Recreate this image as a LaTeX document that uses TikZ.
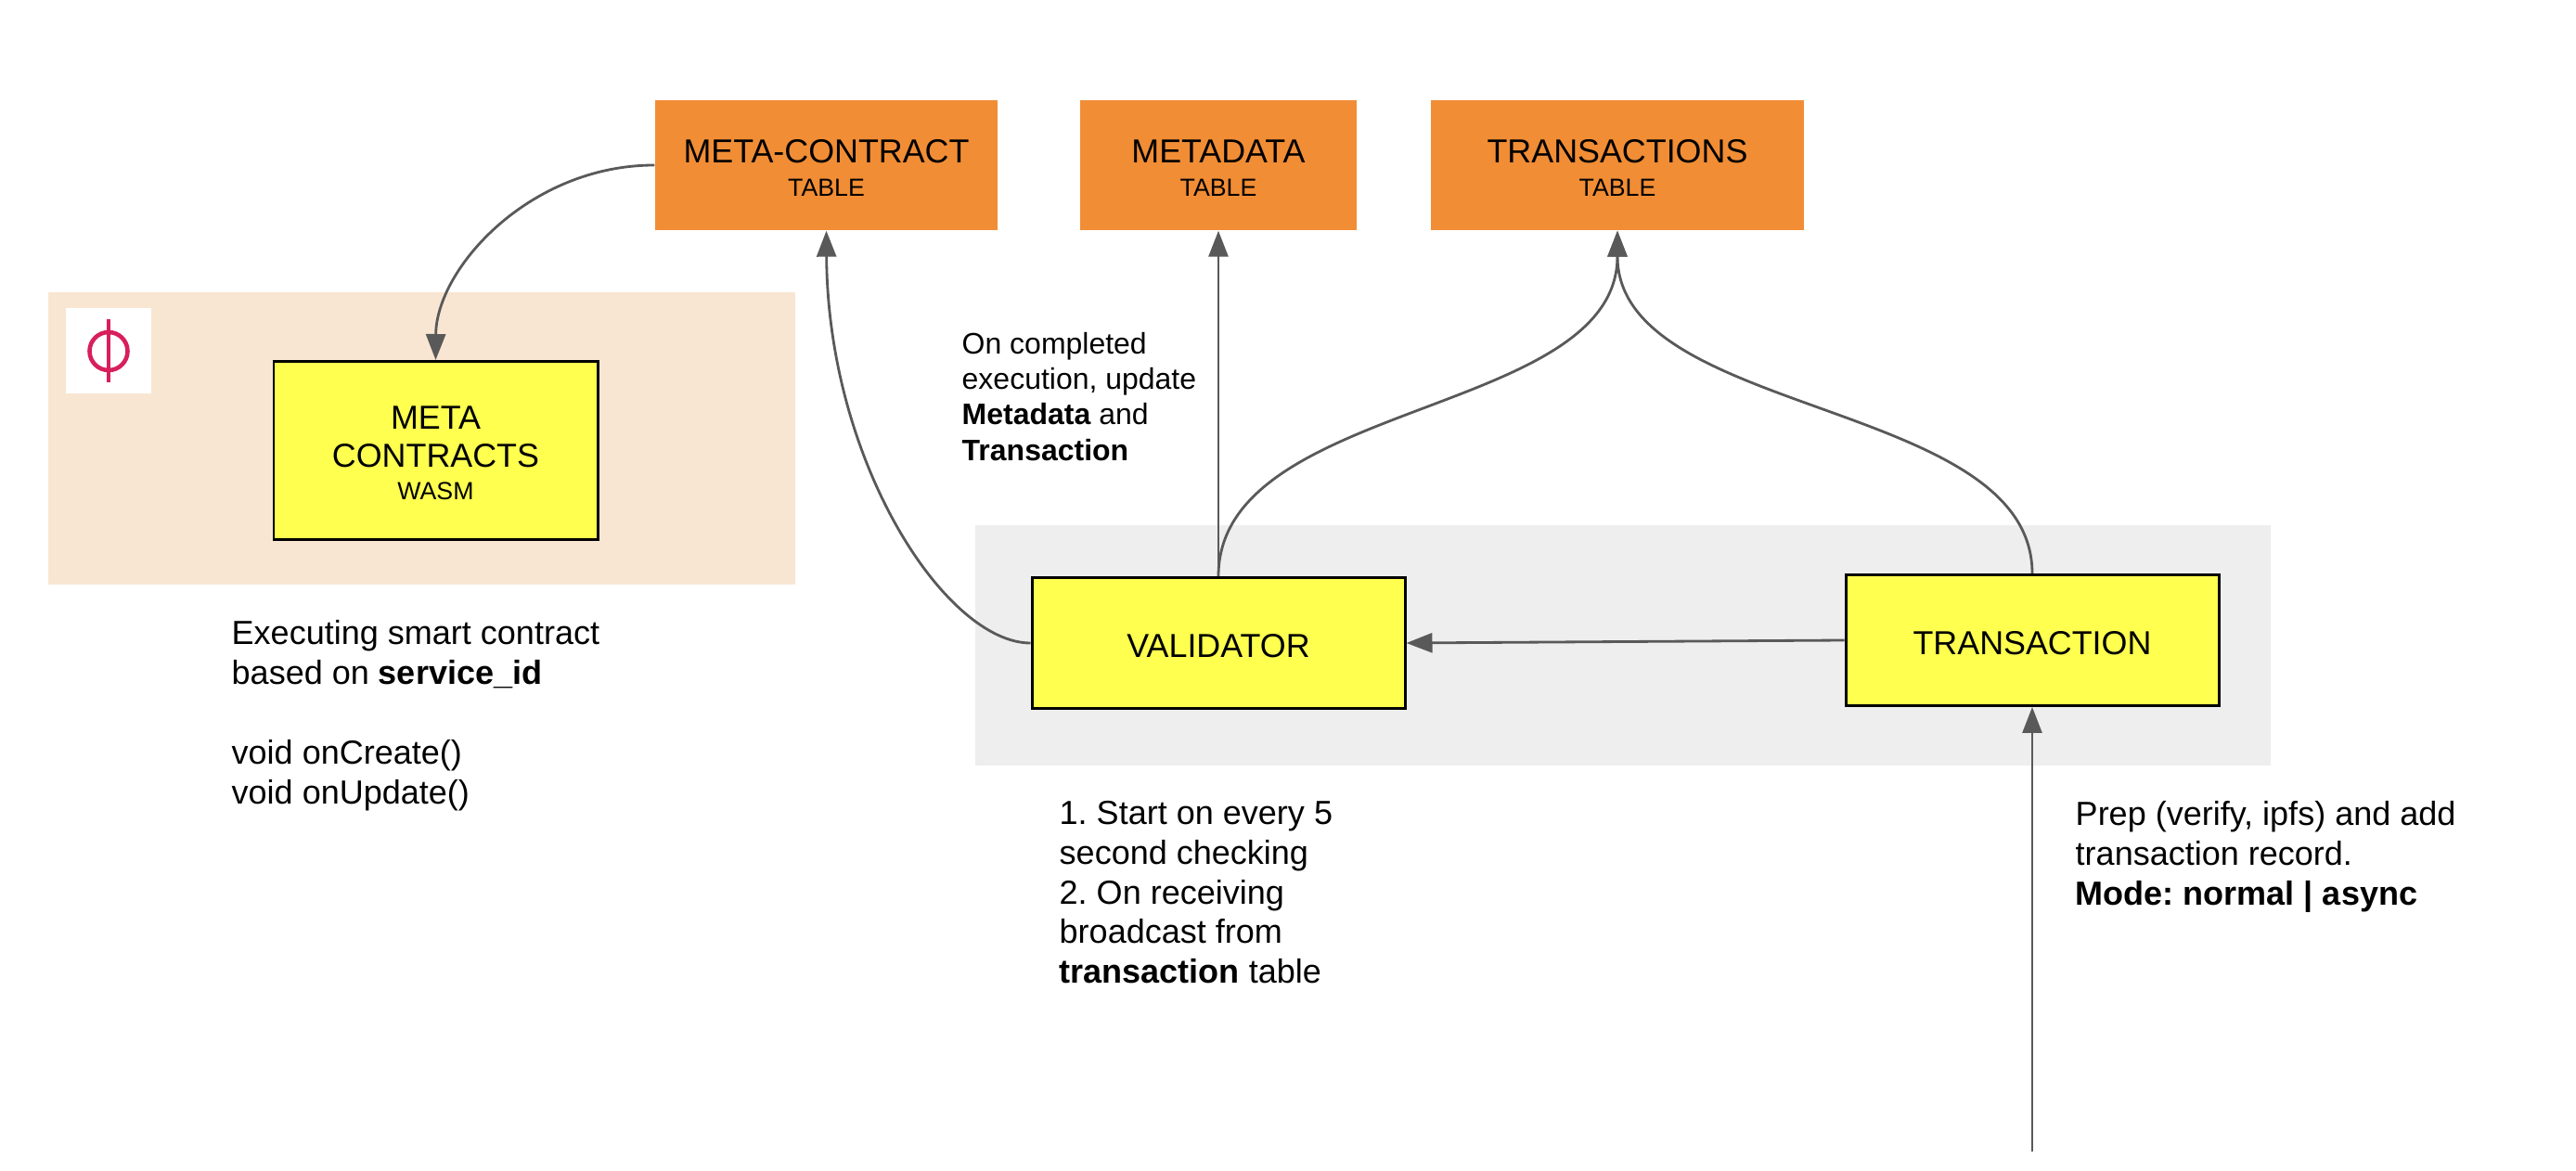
\documentclass[tikz,border=0pt]{standalone}
\usepackage{fontspec}
\setmainfont{Liberation Sans}
\usetikzlibrary{arrows.meta}
\definecolor{tableorange}{HTML}{F18D35}
\definecolor{boxyellow}{HTML}{FFFF4F}
\definecolor{zonebeige}{HTML}{F8E6D2}
\definecolor{zonegray}{HTML}{EEEEEE}
\definecolor{flowgray}{HTML}{595959}
\definecolor{logored}{HTML}{D81F5C}
\tikzset{
  zone/.style={inner sep=0pt, outer sep=0pt},
  tablebox/.style={fill=tableorange, align=center, inner sep=0pt, minimum height=1.40cm, font=\fontsize{10.2}{10.5}\selectfont},
  procbox/.style={draw=black, line width=0.85pt, fill=boxyellow, align=center, inner sep=0pt, font=\fontsize{10.2}{10.5}\selectfont},
  note/.style={anchor=north west, align=left, inner sep=0pt, font=\fontsize{10.25}{12.2}\selectfont\frenchspacing},
  smallnote/.style={note, font=\fontsize{9.1}{10.9}\selectfont\frenchspacing},
  flow/.style={draw=flowgray, line width=0.8pt, -{Triangle[length=0.28cm,width=0.21cm]}},
}
\newcommand{\boxtitle}[1]{\raisebox{-0.8pt}[7.3pt][0pt]{\fontsize{10.2}{10.5}\selectfont #1}}
\newcommand{\boxkind}[1]{\raisebox{-0.5pt}[5.4pt][0pt]{\fontsize{7.6}{10.5}\selectfont #1}}
\begin{document}
\begin{tikzpicture}
  \useasboundingbox (0,0) rectangle (27.76,-12.62);

  \node[zone, fill=zonebeige, minimum width=8.045cm, minimum height=3.15cm] (wasmzone) at (4.543,-4.73) {};
  \node[zone, fill=zonegray, minimum width=13.96cm, minimum height=2.58cm] (chainzone) at (17.49,-6.955) {};
  \node[zone, fill=white, minimum width=0.92cm, minimum height=0.92cm] (logo) at (1.17,-3.785) {};
  \node[circle, draw=logored, line width=1.3pt, minimum size=0.41cm, inner sep=0pt] (logoring) at (logo.center) {};
  \coordinate (logotop) at (1.17,-3.445);
  \coordinate (logobot) at (1.17,-4.125);
  \draw[logored, line width=1.3pt] (logotop) -- (logobot);

  \node[tablebox, minimum width=3.69cm] (metacontract) at (8.905,-1.78) {\boxtitle{META-CONTRACT}\\\boxkind{TABLE}};
  \node[tablebox, minimum width=2.98cm] (metadata) at (13.13,-1.78) {\boxtitle{METADATA}\\\boxkind{TABLE}};
  \node[tablebox, minimum width=4.02cm] (transactions) at (17.43,-1.78) {\boxtitle{TRANSACTIONS}\\\boxkind{TABLE}};

  \node[procbox, minimum width=3.49cm, minimum height=1.92cm] (contracts) at (4.695,-4.855) {\boxtitle{META}\\[1.1pt]\boxtitle{CONTRACTS}\\\boxkind{WASM}};
  \node[procbox, minimum width=4.02cm, minimum height=1.41cm] (validator) at (13.13,-6.93) {\boxtitle{VALIDATOR}};
  \node[procbox, minimum width=4.02cm, minimum height=1.41cm] (transaction) at (21.90,-6.90) {\boxtitle{TRANSACTION}};
  \coordinate (client) at (21.90,-12.41);

  \draw[flow] (metacontract.west) .. controls (5.70,-1.78) and (4.70,-2.90) .. (contracts.north);
  \draw[flow] (validator.west) .. controls (10.20,-6.93) and (8.92,-5.00) .. (metacontract.south);
  \draw[flow] (validator.north) -- (metadata.south);
  \draw[flow] (validator.north) .. controls (13.13,-4.30) and (17.43,-4.50) .. (transactions.south);
  \draw[flow] (transaction.north) .. controls (21.90,-4.30) and (17.43,-4.50) .. (transactions.south);
  \draw[flow] (transaction.west) -- (validator.east);
  \draw[flow] (client) -- (transaction.south);

  \node[smallnote] (updatenote) at (10.36,-3.575) {On completed\\execution, update\\\textbf{Metadata} and\\\textbf{Transaction}};
  \node[note] (contractnote) at (2.49,-6.68) {Executing smart contract\\based on \textbf{service\_id}\\[12.2pt]void onCreate()\\void onUpdate()};
  \node[note] (validatornote) at (11.41,-8.625) {1. Start on every 5\\second checking\\2. On receiving\\broadcast from\\\textbf{transaction} table};
  \node[note] (transactionnote) at (22.36,-8.625) {Prep (verify, ipfs) and add\\transaction record.\\\textbf{Mode: normal | async}};
\end{tikzpicture}
\end{document}
